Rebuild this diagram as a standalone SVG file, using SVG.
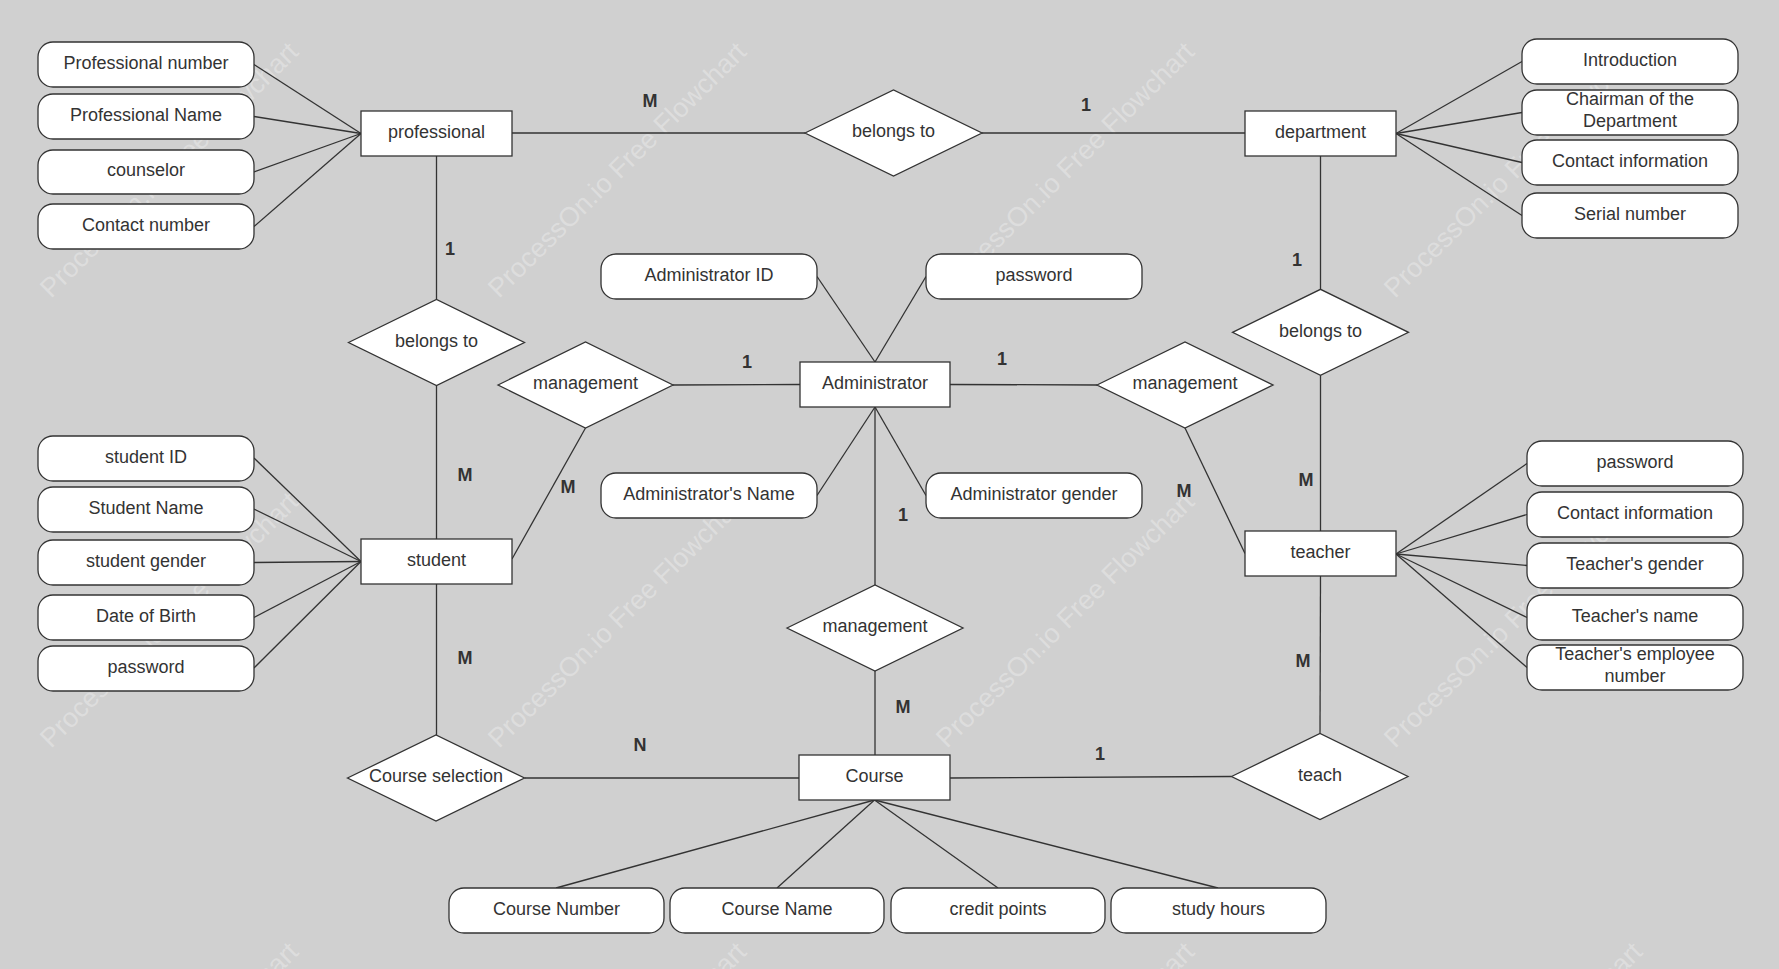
<svg xmlns="http://www.w3.org/2000/svg" width="1779" height="969" viewBox="0 0 1779 969">
<style>
.bg{fill:#d0d0d0}
.wm{font-family:"Liberation Sans",Arial,sans-serif;font-size:27px;fill:#ffffff;fill-opacity:0.3}
.attr{fill:#fff;stroke:#333;stroke-width:1.3}
.ent{fill:#fff;stroke:#333;stroke-width:1.3}
.rel{fill:#fff;stroke:#333;stroke-width:1.3}
.t{font-family:"Liberation Sans",Arial,sans-serif;font-size:18px;fill:#333;text-anchor:middle;transform:translate(0px,-1.5px)}
.c{font-family:"Liberation Sans",Arial,sans-serif;font-size:18px;font-weight:bold;fill:#333;text-anchor:middle}
#connectors line{stroke:#333;stroke-width:1.3;fill:none}
</style>
<rect class="bg" x="0" y="0" width="1779" height="969"/>
<g id="watermark">
<text class="wm" transform="translate(51,299) rotate(-44.6)">ProcessOn.io Free Flowchart</text>
<text class="wm" transform="translate(499,299) rotate(-44.6)">ProcessOn.io Free Flowchart</text>
<text class="wm" transform="translate(947,299) rotate(-44.6)">ProcessOn.io Free Flowchart</text>
<text class="wm" transform="translate(1395,299) rotate(-44.6)">ProcessOn.io Free Flowchart</text>
<text class="wm" transform="translate(51,749) rotate(-44.6)">ProcessOn.io Free Flowchart</text>
<text class="wm" transform="translate(499,749) rotate(-44.6)">ProcessOn.io Free Flowchart</text>
<text class="wm" transform="translate(947,749) rotate(-44.6)">ProcessOn.io Free Flowchart</text>
<text class="wm" transform="translate(1395,749) rotate(-44.6)">ProcessOn.io Free Flowchart</text>
<text class="wm" transform="translate(51,1199) rotate(-44.6)">ProcessOn.io Free Flowchart</text>
<text class="wm" transform="translate(499,1199) rotate(-44.6)">ProcessOn.io Free Flowchart</text>
<text class="wm" transform="translate(947,1199) rotate(-44.6)">ProcessOn.io Free Flowchart</text>
<text class="wm" transform="translate(1395,1199) rotate(-44.6)">ProcessOn.io Free Flowchart</text>
</g>
<g id="connectors">
<line x1="254" y1="64.5" x2="361" y2="133.5"/>
<line x1="254" y1="116.5" x2="361" y2="133.5"/>
<line x1="254" y1="172" x2="361" y2="133.5"/>
<line x1="254" y1="226.5" x2="361" y2="133.5"/>
<line x1="512" y1="133" x2="805" y2="133"/>
<line x1="982" y1="133" x2="1245" y2="133"/>
<line x1="436.5" y1="156" x2="436.5" y2="299.5"/>
<line x1="436.5" y1="385.5" x2="436.5" y2="539"/>
<line x1="254" y1="458" x2="361" y2="561.5"/>
<line x1="254" y1="509" x2="361" y2="561.5"/>
<line x1="254" y1="562.5" x2="361" y2="561.5"/>
<line x1="254" y1="617.5" x2="361" y2="561.5"/>
<line x1="254" y1="668" x2="361" y2="561.5"/>
<line x1="512" y1="559" x2="585.5" y2="428"/>
<line x1="673" y1="385" x2="800" y2="384.5"/>
<line x1="817" y1="276.5" x2="875" y2="362"/>
<line x1="926" y1="276.5" x2="875" y2="362"/>
<line x1="817" y1="495.5" x2="875" y2="407"/>
<line x1="926" y1="495.5" x2="875" y2="407"/>
<line x1="950" y1="384.5" x2="1097" y2="385"/>
<line x1="1185" y1="428" x2="1245" y2="553.5"/>
<line x1="1320.5" y1="156" x2="1320.5" y2="289.3"/>
<line x1="1320.5" y1="375.3" x2="1320.5" y2="531"/>
<line x1="1396" y1="133.5" x2="1522" y2="61.5"/>
<line x1="1396" y1="133.5" x2="1522" y2="112.5"/>
<line x1="1396" y1="133.5" x2="1522" y2="162.5"/>
<line x1="1396" y1="133.5" x2="1522" y2="215.5"/>
<line x1="1396" y1="554" x2="1527" y2="463.5"/>
<line x1="1396" y1="554" x2="1527" y2="514.5"/>
<line x1="1396" y1="554" x2="1527" y2="565.5"/>
<line x1="1396" y1="554" x2="1527" y2="617.5"/>
<line x1="1396" y1="554" x2="1527" y2="667.5"/>
<line x1="875" y1="407" x2="875" y2="585"/>
<line x1="875" y1="671" x2="875" y2="755"/>
<line x1="436.5" y1="584" x2="436.5" y2="735"/>
<line x1="524.5" y1="778" x2="799" y2="778"/>
<line x1="950" y1="778" x2="1231.5" y2="776.5"/>
<line x1="1320.5" y1="576" x2="1320" y2="733.5"/>
<line x1="874.5" y1="800" x2="556" y2="888"/>
<line x1="874.5" y1="800" x2="777" y2="888"/>
<line x1="874.5" y1="800" x2="998" y2="888"/>
<line x1="874.5" y1="800" x2="1218" y2="888"/>
</g>
<g id="cardinalities">
<text class="c" x="650" y="106.5">M</text>
<text class="c" x="1086" y="110.5">1</text>
<text class="c" x="450" y="254.5">1</text>
<text class="c" x="465" y="480.5">M</text>
<text class="c" x="568" y="492.5">M</text>
<text class="c" x="747" y="367.5">1</text>
<text class="c" x="1002" y="364.5">1</text>
<text class="c" x="903" y="520.5">1</text>
<text class="c" x="1184" y="497">M</text>
<text class="c" x="1297" y="265.5">1</text>
<text class="c" x="1306" y="485.5">M</text>
<text class="c" x="465" y="663.5">M</text>
<text class="c" x="1303" y="667">M</text>
<text class="c" x="640" y="750.5">N</text>
<text class="c" x="903" y="712.5">M</text>
<text class="c" x="1100" y="759.5">1</text>
</g>
<g id="professional"><rect class="ent" x="361" y="111" width="151" height="45"/><text class="t" x="436.5" y="139">professional</text></g>
<g id="attr-professional-number"><rect class="attr" x="38" y="42" width="216" height="45" rx="15"/><text class="t" x="146" y="70">Professional number</text></g>
<g id="attr-professional-name"><rect class="attr" x="38" y="94" width="216" height="45" rx="15"/><text class="t" x="146" y="122">Professional Name</text></g>
<g id="attr-counselor"><rect class="attr" x="38" y="150" width="216" height="44" rx="15"/><text class="t" x="146" y="177.5">counselor</text></g>
<g id="attr-contact-number"><rect class="attr" x="38" y="204" width="216" height="45" rx="15"/><text class="t" x="146" y="232">Contact number</text></g>
<g id="rel-belongs-top"><polygon class="rel" points="805,133 893.5,90 982,133 893.5,176"/><text class="t" x="893.5" y="138.5">belongs to</text></g>
<g id="department"><rect class="ent" x="1245" y="111" width="151" height="45"/><text class="t" x="1320.5" y="139">department</text></g>
<g id="attr-introduction"><rect class="attr" x="1522" y="39" width="216" height="45" rx="15"/><text class="t" x="1630" y="67">Introduction</text></g>
<g id="attr-chairman"><rect class="attr" x="1522" y="90" width="216" height="45" rx="15"/><text class="t" x="1630" y="106.5">Chairman of the</text><text class="t" x="1630" y="128">Department</text></g>
<g id="attr-dept-contact"><rect class="attr" x="1522" y="140" width="216" height="45" rx="15"/><text class="t" x="1630" y="168">Contact information</text></g>
<g id="attr-serial-number"><rect class="attr" x="1522" y="193" width="216" height="45" rx="15"/><text class="t" x="1630" y="221">Serial number</text></g>
<g id="rel-belongs-left"><polygon class="rel" points="348.5,342.5 436.5,299.5 524.5,342.5 436.5,385.5"/><text class="t" x="436.5" y="348">belongs to</text></g>
<g id="rel-belongs-right"><polygon class="rel" points="1232.5,332.3 1320.5,289.3 1408.5,332.3 1320.5,375.3"/><text class="t" x="1320.5" y="338">belongs to</text></g>
<g id="rel-management-left"><polygon class="rel" points="498,385 585.5,342 673,385 585.5,428"/><text class="t" x="585.5" y="390.5">management</text></g>
<g id="rel-management-right"><polygon class="rel" points="1097,385 1185,342 1273,385 1185,428"/><text class="t" x="1185" y="390.5">management</text></g>
<g id="administrator"><rect class="ent" x="800" y="362" width="150" height="45"/><text class="t" x="875" y="390">Administrator</text></g>
<g id="attr-admin-id"><rect class="attr" x="601" y="254" width="216" height="45" rx="15"/><text class="t" x="709" y="282">Administrator ID</text></g>
<g id="attr-admin-password"><rect class="attr" x="926" y="254" width="216" height="45" rx="15"/><text class="t" x="1034" y="282">password</text></g>
<g id="attr-admin-name"><rect class="attr" x="601" y="473" width="216" height="45" rx="15"/><text class="t" x="709" y="501">Administrator's Name</text></g>
<g id="attr-admin-gender"><rect class="attr" x="926" y="473" width="216" height="45" rx="15"/><text class="t" x="1034" y="501">Administrator gender</text></g>
<g id="student"><rect class="ent" x="361" y="539" width="151" height="45"/><text class="t" x="436.5" y="567">student</text></g>
<g id="attr-student-id"><rect class="attr" x="38" y="436" width="216" height="45" rx="15"/><text class="t" x="146" y="464">student ID</text></g>
<g id="attr-student-name"><rect class="attr" x="38" y="487" width="216" height="45" rx="15"/><text class="t" x="146" y="515">Student Name</text></g>
<g id="attr-student-gender"><rect class="attr" x="38" y="540" width="216" height="45" rx="15"/><text class="t" x="146" y="568">student gender</text></g>
<g id="attr-date-of-birth"><rect class="attr" x="38" y="595" width="216" height="45" rx="15"/><text class="t" x="146" y="623">Date of Birth</text></g>
<g id="attr-student-password"><rect class="attr" x="38" y="646" width="216" height="45" rx="15"/><text class="t" x="146" y="674">password</text></g>
<g id="teacher"><rect class="ent" x="1245" y="531" width="151" height="45"/><text class="t" x="1320.5" y="559">teacher</text></g>
<g id="attr-teacher-password"><rect class="attr" x="1527" y="441" width="216" height="45" rx="15"/><text class="t" x="1635" y="469">password</text></g>
<g id="attr-teacher-contact"><rect class="attr" x="1527" y="492" width="216" height="45" rx="15"/><text class="t" x="1635" y="520">Contact information</text></g>
<g id="attr-teacher-gender"><rect class="attr" x="1527" y="543" width="216" height="45" rx="15"/><text class="t" x="1635" y="571">Teacher's gender</text></g>
<g id="attr-teacher-name"><rect class="attr" x="1527" y="595" width="216" height="45" rx="15"/><text class="t" x="1635" y="623">Teacher's name</text></g>
<g id="attr-teacher-employee-number"><rect class="attr" x="1527" y="645" width="216" height="45" rx="15"/><text class="t" x="1635" y="661.5">Teacher's employee</text><text class="t" x="1635" y="683">number</text></g>
<g id="rel-management-bottom"><polygon class="rel" points="787,628 875,585 963,628 875,671"/><text class="t" x="875" y="633.5">management</text></g>
<g id="course"><rect class="ent" x="799" y="755" width="151" height="45"/><text class="t" x="874.5" y="783">Course</text></g>
<g id="rel-course-selection"><polygon class="rel" points="347.5,778 436,735 524.5,778 436,821"/><text class="t" x="436" y="783.5">Course selection</text></g>
<g id="rel-teach"><polygon class="rel" points="1231.5,776.5 1320,733.5 1408,776.5 1320,819.5"/><text class="t" x="1320" y="782">teach</text></g>
<g id="attr-course-number"><rect class="attr" x="449" y="888" width="215" height="45" rx="15"/><text class="t" x="556.5" y="916">Course Number</text></g>
<g id="attr-course-name"><rect class="attr" x="670" y="888" width="214" height="45" rx="15"/><text class="t" x="777" y="916">Course Name</text></g>
<g id="attr-credit-points"><rect class="attr" x="891" y="888" width="214" height="45" rx="15"/><text class="t" x="998" y="916">credit points</text></g>
<g id="attr-study-hours"><rect class="attr" x="1111" y="888" width="215" height="45" rx="15"/><text class="t" x="1218.5" y="916">study hours</text></g>
</svg>
